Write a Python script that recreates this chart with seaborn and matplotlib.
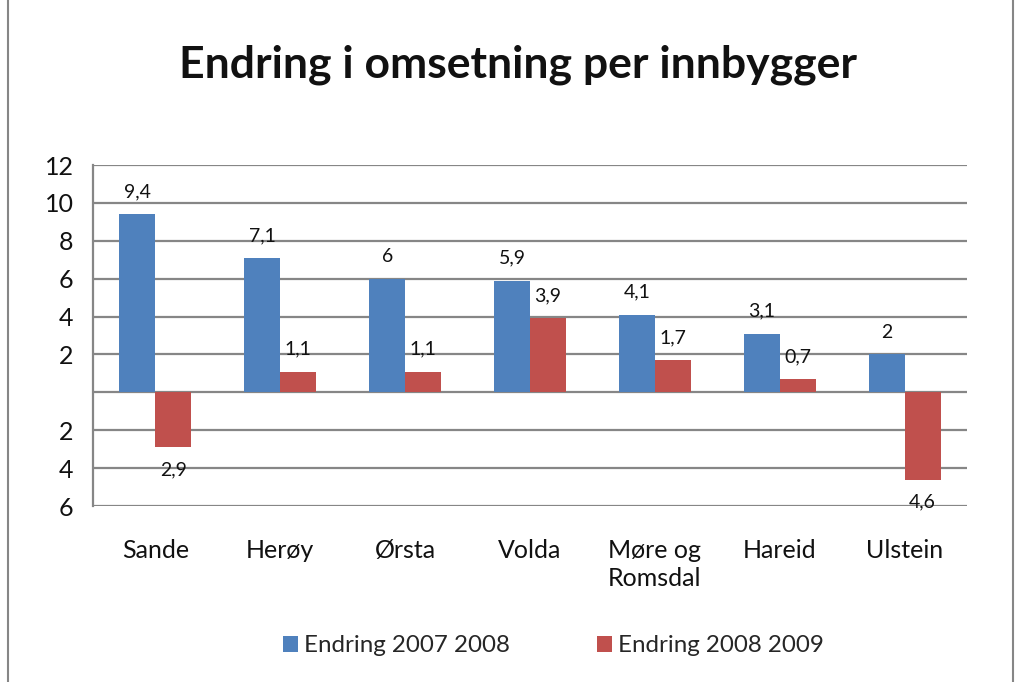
import matplotlib
matplotlib.use("Agg")
import matplotlib.pyplot as plt
import seaborn as sns
import pandas as pd
from matplotlib.patches import Rectangle

categories = ["Sande", "Herøy", "Ørsta", "Volda", "Møre og\nRomsdal", "Hareid", "Ulstein"]
series_names = ["Endring 2007 2008", "Endring 2008 2009"]
values_2007_2008 = [9.4, 7.1, 6.0, 5.9, 4.1, 3.1, 2.0]
values_2008_2009 = [-2.9, 1.1, 1.1, 3.9, 1.7, 0.7, -4.6]
y_ticks = [-6, -4, -2, 0, 2, 4, 6, 8, 10, 12]
colors = ["#4F81BD", "#C0504D"]

rows = []
for c, v in zip(categories, values_2007_2008):
    rows.append({"Kommune": c, "Serie": series_names[0], "Verdi": v})
for c, v in zip(categories, values_2008_2009):
    rows.append({"Kommune": c, "Serie": series_names[1], "Verdi": v})
df = pd.DataFrame(rows)

sns.set_theme(style="white")
plt.rcParams["font.family"] = ["Lato", "DejaVu Sans"]

fig = plt.figure(figsize=(10.2, 6.82), dpi=100)
ax = fig.add_axes([0.0912, 0.258, 0.857, 0.50])

sns.barplot(data=df, x="Kommune", y="Verdi", hue="Serie", order=categories,
            hue_order=series_names, palette=colors, width=0.576, ax=ax,
            saturation=1, errorbar=None, legend=True, zorder=3, linewidth=0)

ax.set_ylim(-6, 12)
ax.set_yticks(y_ticks)
ax.set_yticklabels(["" if t == 0 else str(abs(t)) for t in y_ticks], fontsize=18, color="#111111")
ax.set_xlim(-0.5, len(categories) - 0.5)
ax.tick_params(axis="x", labelsize=18, colors="#111111", pad=24, length=0)
ax.tick_params(axis="y", length=0, pad=14)
for lbl in ax.get_xticklabels():
    lbl.set_linespacing(1.25)
ax.set_xlabel("")
ax.set_ylabel("")
ax.grid(axis="y", color="#868686", linewidth=1.6, zorder=0)
for s in ["top", "right", "bottom"]:
    ax.spines[s].set_visible(False)
ax.spines["left"].set_color("#868686")
ax.spines["left"].set_linewidth(1.6)

def fmt(v):
    a = abs(v)
    s = ("%g" % a).replace(".", ",")
    return s

for cont, vals in zip(ax.containers, [values_2007_2008, values_2008_2009]):
    ax.bar_label(cont, labels=[fmt(v) for v in vals], padding=10, fontsize=14, color="#111111")

leg = ax.legend(loc="center", bbox_to_anchor=(0.527, -0.41), ncol=2, frameon=False,
                fontsize=17.4, handlelength=0.62, handleheight=0.62, handletextpad=0.25,
                columnspacing=3.6)

fig.text(0.508, 0.905, "Endring i omsetning per innbygger", ha="center", va="center",
         fontsize=32, fontweight="bold", color="#111111")

fig.patches.append(Rectangle((0.008, -0.01), 0.985, 1.02, transform=fig.transFigure,
                             fill=False, edgecolor="#868686", linewidth=1.5))

fig.savefig("out.png", dpi=100)
